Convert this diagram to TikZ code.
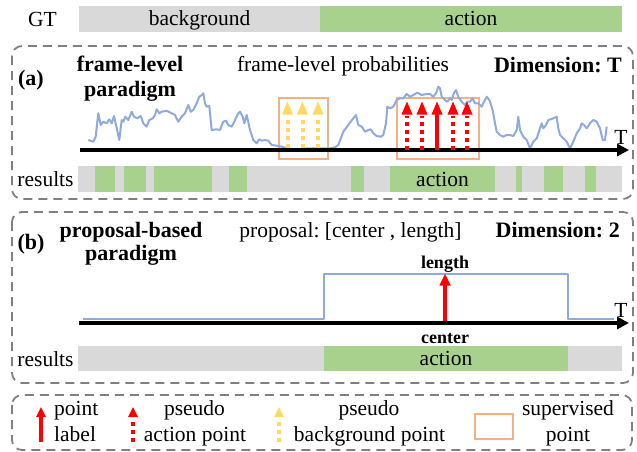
\documentclass[tikz,border=0pt]{standalone}
\usepackage{fontspec}
\setmainfont{Liberation Serif}
\usetikzlibrary{arrows.meta}
\definecolor{bargray}{HTML}{D9D9D9}
\definecolor{bargreen}{HTML}{A9D18E}
\definecolor{curveblue}{HTML}{8FAADC}
\definecolor{boxorange}{HTML}{F4B183}
\definecolor{ptyellow}{HTML}{FFD966}
\definecolor{dashgray}{HTML}{808080}
\definecolor{ptred}{HTML}{FF0000}
\newcommand{\upheadat}[5]{\fill[#3] (#1-#4/2,#2+#5) -- (#1+#4/2,#2+#5) -- (#1,#2) -- cycle;}
\frenchspacing
\begin{document}
\begin{tikzpicture}[x=1pt,y=-1pt,
  txt/.style={font=\fontsize{21.5pt}{24pt}\selectfont, inner sep=0pt, text height=14pt, text depth=0pt},
  btxt/.style={font=\fontsize{22pt}{24pt}\selectfont\bfseries, inner sep=0pt, text height=14.5pt, text depth=0pt},
  sbtxt/.style={font=\fontsize{18pt}{20pt}\selectfont\bfseries, inner sep=0pt, text height=12pt, text depth=0pt},
  barseg/.style={txt, minimum height=26pt},
  panel/.style={draw=dashgray, line width=1.8pt, dash pattern=on 9pt off 6pt, rounded corners=10pt},
  supbox/.style={draw=boxorange, line width=2.6pt},
  prob/.style={draw=curveblue, line width=2pt, line join=round},
  timeaxis/.style={line width=4pt, -{Triangle[length=12pt,width=12pt]}},
  solidarrow/.style={draw=ptred, line width=3.3pt},
  reddots/.style={draw=ptred, line width=4pt, dash pattern=on 4.5pt off 3.5pt},
  yeldots/.style={draw=ptyellow, line width=4pt, dash pattern=on 4.5pt off 3.5pt},
]
\useasboundingbox (0,0) rectangle (637,451);

% ---------------- GT row ----------------
\node[txt] (gt) at (42.5,19) {GT};
\node[barseg, fill=bargray, minimum width=241pt] (gtbg) at (199.5,18.5) {background};
\node[barseg, fill=bargreen, minimum width=302pt] (gtact) at (471,18.5) {action};

% ---------------- panel (a) ----------------
\draw[panel] (12,46) rectangle (633,199);
\node[btxt] (la) at (31,78) {(a)};
\node[btxt] (fl1) at (130,64) {frame-level};
\node[btxt] (fl2) at (130,89) {paradigm};
\node[txt] (flp) at (343,64) {frame-level probabilities};
\node[btxt, anchor=east] (dimt) at (622,65) {Dimension: T};

\draw[supbox] (279,98) rectangle (328,159);
\draw[supbox] (397,98) rectangle (479,159);

\draw[prob] plot coordinates {
(88.3,140) (93.3,141.7) (95.7,136.7) (98.3,113.3) (100.7,125) (103.3,121.7) (106.7,123.3) (109.3,119.3) (111.7,123.3) (114,116) (116,125) (119.3,140) (121.7,120) (123.3,121.7) (125.3,116.7) (128.3,120) (131.7,111.7) (134,116.7) (137.3,118.3) (140.7,116) (143.3,123.3) (146.7,126.7) (149.3,120) (152.7,118.3) (155,115) (156.7,109.3) (159.3,113.3) (161.7,111.7) (166.7,110.7) (171.7,113.3) (175,115) (178.3,121.7) (181.7,116.7) (185,113.3) (188.3,105) (190.7,111.7) (193.3,110) (196.7,103.3) (199.3,96.7) (201.7,95) (203.3,93.3) (205,103.3) (206.7,106.7) (209.3,106) (211.7,130) (216.7,129.3) (220,130) (223.3,121.7) (226,120.7) (228.3,125) (231.7,126.7) (235,120) (238.3,113.3) (240,111.7) (242.7,116.7) (244.3,123.3) (246.7,115) (250,130) (253.3,140) (256.7,143.3) (259,139.3) (261.7,140.7) (265,140) (268.3,140.7) (271.7,145) (276.7,145.7) (281.7,146.7) (286.7,148.3) (293.3,149) (300,149.3) (306.7,148.3) (313.3,148.3) (320,148.3) (326.7,148.3) (330,148.3) (335,147.3) (338.3,145) (343.3,131.7) (348.3,125) (353.3,118.3) (356,115) (358.3,125) (361.7,126.7) (365,131.7) (368.3,130) (370.7,129.3) (373.3,133.3) (376.7,136) (380.7,136.7) (383.3,135) (386,123.3) (387.3,106.7) (390,108.3) (393.3,106.7) (396.7,100) (400,98.3) (403.3,98.3) (406.7,94) (410,96.7) (413.3,95) (417.3,92.7) (421.7,95) (425,94.3) (430,94) (433.3,96.7) (436,93.3) (438.3,86.7) (440,88.3) (441.7,96.7) (445,100) (447.3,101.7) (450,98.3) (451.7,100) (454,92.7) (456,90) (458.3,96.7) (461.7,101.7) (465,105) (467.3,101.7) (470,101.7) (472.7,98.3) (475,103.3) (478.3,103.3) (481.7,106.7) (484,101.7) (486.7,96.7) (489.3,100) (491.7,106.7) (493.3,113.3) (495,123.3) (496.7,131.7) (500,135) (503.3,136.7) (506.7,135) (510,135) (513.3,136) (516.7,130) (518.3,116.7) (520,130) (523.3,136.7) (526.7,140) (530,148.3) (533.3,141.7) (536.7,138.3) (540,128.3) (541.7,123.3) (543.3,128.3) (546,125) (548.3,120) (550.7,119.3) (553.3,118.3) (556.7,116.7) (558.3,128.3) (560,135) (563.3,138.3) (566.7,141.7) (570,148.3) (573.3,141.7) (576.7,133.3) (580,128.3) (581.7,123.3) (584,125) (586.7,128.3) (590,123.3) (593.3,120) (596.7,121.7) (600,128.3) (602.7,140) (605,140) (606.7,126.7)
};

\coordinate (axa0) at (80,150);
\coordinate (axa1) at (629,150);
\draw[timeaxis] (axa0) -- (axa1);
\node[txt] (ta) at (621,137) {T};

% yellow pseudo background points
\foreach \xx in {287.5,302.5,318} {
  \draw[yeldots] (\xx,148) -- (\xx,116);
  \upheadat{\xx}{101.5}{ptyellow}{11}{13}
}
% red pseudo action points and point label
\foreach \xx in {407,422,453,467} {
  \draw[reddots] (\xx,150) -- (\xx,116);
  \upheadat{\xx}{101.5}{ptred}{11}{13}
}
\draw[solidarrow] (437,150) -- (437,113);
\upheadat{437}{101.5}{ptred}{11}{13}

% results (a)
\node[txt] (resa) at (45.5,179) {results};
\fill[bargray] (78,166) rectangle (622,192);
\fill[bargreen] (95,166) rectangle (115,192);
\fill[bargreen] (124,166) rectangle (146,192);
\fill[bargreen] (154,166) rectangle (212,192);
\fill[bargreen] (229,166) rectangle (247,192);
\fill[bargreen] (351,166) rectangle (364,192);
\node[barseg, fill=bargreen, minimum width=105pt] (acta) at (442.5,179) {action};
\fill[bargreen] (516,166) rectangle (522,192);
\fill[bargreen] (544,166) rectangle (563,192);
\fill[bargreen] (585,166) rectangle (596,192);

% ---------------- panel (b) ----------------
\draw[panel] (12,212) rectangle (633,383);
\node[btxt] (lb) at (31,242) {(b)};
\node[btxt] (pb1) at (131,230) {proposal-based};
\node[btxt] (pb2) at (131,253) {paradigm};
\node[txt] (prop) at (350.5,230) {proposal: [center , length]};
\node[btxt, anchor=east] (dim2) at (620,230) {Dimension: 2};

\draw[prob] (83,319) -- (324,319) -- (324,274) -- (568,274) -- (568,319) -- (614,319);
\coordinate (axb0) at (79,323);
\coordinate (axb1) at (629,323);
\draw[timeaxis] (axb0) -- (axb1);
\node[txt] (tb) at (621,310) {T};

\draw[solidarrow] (445,321) -- (445,284);
\upheadat{445}{274}{ptred}{11.5}{11.5}
\node[sbtxt] (lenlab) at (445,262) {length};
\node[sbtxt] (cenlab) at (445,337) {center};

\node[txt] (resb) at (45.5,359) {results};
\fill[bargray] (78,346) rectangle (622,371);
\node[barseg, fill=bargreen, minimum width=244pt, minimum height=25pt] (actb) at (446,358.5) {action};

% ---------------- legend ----------------
\draw[panel] (12,395) rectangle (632,450);
\draw[solidarrow] (41,442) -- (41,415);
\upheadat{41}{407}{ptred}{10}{10}
\node[txt, anchor=west] (lg1a) at (54,408) {point};
\node[txt, anchor=west] (lg1b) at (54,434) {label};

\draw[reddots] (133,442) -- (133,420);
\upheadat{133}{407}{ptred}{10}{10}
\node[txt] (lg2a) at (194.5,408) {pseudo};
\node[txt] (lg2b) at (195,434) {action point};

\draw[yeldots] (279,442) -- (279,420);
\upheadat{279}{407}{ptyellow}{10}{10}
\node[txt] (lg3a) at (369,408) {pseudo};
\node[txt] (lg3b) at (369.5,434) {background point};

\draw[supbox] (475,414) rectangle (513,439);
\node[txt] (lg4a) at (568,408) {supervised};
\node[txt] (lg4b) at (568,434) {point};
\end{tikzpicture}
\end{document}
